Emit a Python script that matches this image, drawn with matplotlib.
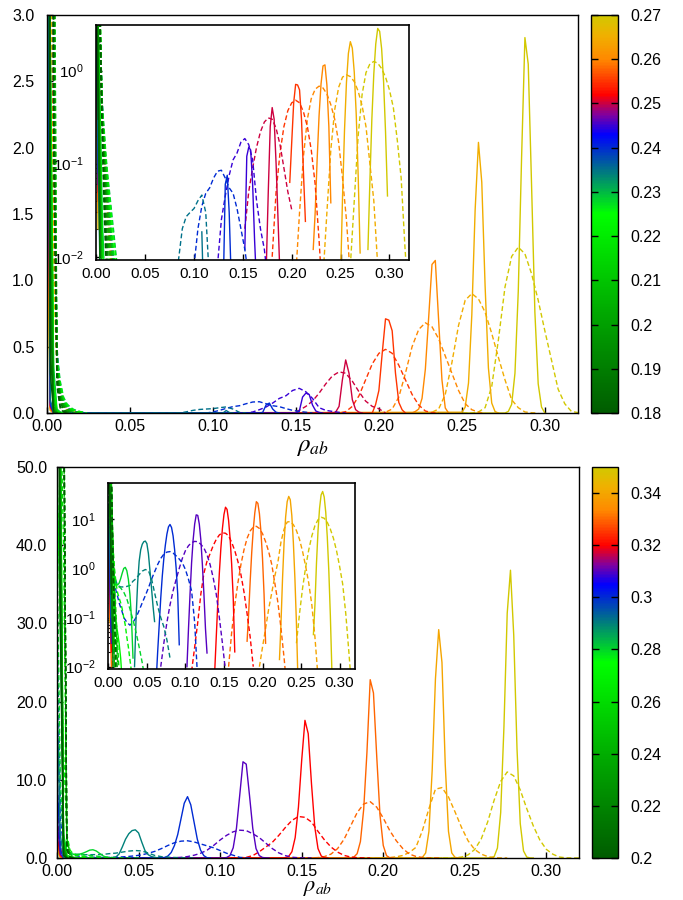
import numpy as np
import matplotlib
matplotlib.use("Agg")
import matplotlib.pyplot as plt
from matplotlib.colors import LinearSegmentedColormap, Normalize
from matplotlib.cm import ScalarMappable
from matplotlib.ticker import FixedLocator, FormatStrFormatter, LogLocator, NullFormatter

plt.rcParams["font.family"] = ["Liberation Sans", "DejaVu Sans"]
plt.rcParams["mathtext.fontset"] = "custom"
plt.rcParams["mathtext.rm"] = "Liberation Sans"
plt.rcParams["mathtext.it"] = "Liberation Sans:italic"

BIN = 0.002       # bin width of the histograms (near zero and solid curves)
BIN_WIDE = 0.004  # bin width used for the broad (dashed) curves

# palette, dark green -> green -> teal -> blue -> purple -> red -> orange -> yellow
pal_pos = [0.0, 0.25, 0.5, 0.6, 0.7, 0.75, 0.8, 0.89, 0.95, 1.0]
pal_col = ["#005c00", "#00a800", "#00ff00", "#00807a", "#0000ff",
           "#8000a0", "#ff0000", "#ff8800", "#f0b000", "#d2c800"]
cmap = LinearSegmentedColormap.from_list("pal", list(zip(pal_pos, pal_col)))

# ---------------- top panel ----------------
top_params = [0.18, 0.185, 0.19, 0.195, 0.20, 0.205, 0.21, 0.215, 0.22, 0.225,
              0.23, 0.235, 0.24, 0.245, 0.25, 0.255, 0.26, 0.265, 0.27]
top_cbar_ticks = [0.18, 0.19, 0.20, 0.21, 0.22, 0.23, 0.24, 0.25, 0.26, 0.27]

top_solid_zero = [
    [10, 0.3, 0], [12, 0.5, 0.005, 0], [15, 0.8, 0.01, 0], [18, 1.1, 0.02, 0],
    [22, 1.4, 0.03, 0], [26, 1.7, 0.05, 0.004, 0], [30, 2.0, 0.08, 0.006, 0],
    [34, 2.3, 0.12, 0.01, 0], [38, 2.5, 0.18, 0.015, 0], [40, 2.7, 0.25, 0.02, 0.005, 0],
    [40, 2.8, 0.35, 0.03, 0.008, 0], [6, 0.1, 0.005, 0], [5, 0.08, 0], [4.5, 0.06, 0],
    [4, 0.05, 0], [3.5, 0.04, 0], [2.5, 0.03, 0], [2, 0.02, 0], [1.5, 0.02, 0],
]
top_solid_start = [None, None, None, None, None, None, None, None, None, None,
                   None, 0.106, 0.128, 0.150, 0.172, 0.196, 0.220, 0.250, 0.276]
top_solid_peak = [
    [], [], [], [], [], [], [], [], [], [], [],
    [0, 0.0185, 0.003, 0],
    [0, 0.005, 0.06, 0.075, 0.03, 0.006, 0],
    [0, 0.012, 0.12, 0.15, 0.14, 0.06, 0.015, 0.005, 0],
    [0, 0.008, 0.05, 0.25, 0.40, 0.30, 0.10, 0.025, 0.006, 0],
    [0, 0.063, 0.17, 0.45, 0.71, 0.70, 0.62, 0.30, 0.08, 0.024, 0],
    [0, 0.012, 0.03, 0.11, 0.33, 0.72, 1.12, 1.15, 0.70, 0.25, 0.038, 0],
    [0.006, 0.044, 0.226, 0.74, 1.53, 2.04, 1.74, 0.96, 0.34, 0.075, 0.011, 0],
    [0, 0.012, 0.065, 0.30, 0.92, 1.93, 2.83, 2.63, 1.72, 0.76, 0.22, 0.045, 0],
]
top_dash_zero = [
    [60, 30, 2.0, 0.2, 0.03, 0.008, 0],
    [60, 35, 2.2, 0.25, 0.05, 0.012, 0.004, 0],
    [60, 40, 2.4, 0.3, 0.08, 0.02, 0.006, 0],
    [60, 40, 2.6, 0.32, 0.1, 0.03, 0.01, 0.004, 0],
    [60, 40, 2.8, 0.35, 0.12, 0.05, 0.018, 0.007, 0],
    [60, 40, 5.0, 0.3, 0.14, 0.06, 0.028, 0.012, 0.005, 0],
    [60, 40, 2.5, 0.38, 0.16, 0.08, 0.04, 0.018, 0.01, 0.006, 0],
    [60, 40, 2.7, 0.4, 0.18, 0.09, 0.05, 0.026, 0.014, 0.008, 0.005, 0],
    [60, 40, 4.5, 0.35, 0.2, 0.1, 0.06, 0.032, 0.018, 0.011, 0.007, 0],
    [60, 40, 2.9, 0.42, 0.22, 0.11, 0.065, 0.04, 0.024, 0.015, 0.01, 0.006, 0],
    [50, 30, 2.6, 0.45, 0.24, 0.12, 0.07, 0.045, 0.028, 0.018, 0.011, 0.007, 0],
    [30, 20, 2.5, 0.5, 0.18, 0.09, 0.05, 0.028, 0.016, 0.01, 0.006, 0],
    [25, 15, 2.4, 0.45, 0.16, 0.08, 0.045, 0.025, 0.014, 0.009, 0.005, 0],
    [20, 12, 2.3, 0.42, 0.15, 0.07, 0.04, 0.022, 0.012, 0.007, 0],
    [15, 10, 2.2, 0.4, 0.14, 0.065, 0.035, 0.019, 0.01, 0.006, 0],
    [12, 8, 2.0, 0.38, 0.13, 0.06, 0.03, 0.016, 0.009, 0],
    [10, 6, 1.6, 0.36, 0.12, 0.055, 0.026, 0.014, 0.008, 0],
    [8, 5, 1.3, 0.34, 0.11, 0.05, 0.024, 0.012, 0.007, 0],
    [6, 4, 1.0, 0.32, 0.1, 0.045, 0.022, 0.011, 0.006, 0],
]
top_dash_start = [None, None, None, None, None, None, None, None, None, None,
                  None, 0.080, 0.096, 0.120, 0.148, 0.176, 0.200, 0.228, 0.256]
top_dash_peak = [
    [], [], [], [], [], [], [], [], [], [], [],
    [0, 0.009, 0.02, 0.027, 0.03, 0.033, 0.04, 0.046, 0.03, 0.005, 0],
    [0, 0.008, 0.02, 0.035, 0.048, 0.055, 0.07, 0.083, 0.085, 0.07, 0.055, 0.048,
     0.033, 0.02, 0.012, 0.006, 0],
    [0, 0.008, 0.025, 0.045, 0.075, 0.11, 0.13, 0.17, 0.186, 0.16, 0.11, 0.04,
     0.02, 0.012, 0.005, 0],
    [0, 0.02, 0.05, 0.09, 0.15, 0.22, 0.28, 0.31, 0.30, 0.24, 0.16, 0.09, 0.05, 0.032, 0],
    [0, 0.01, 0.05, 0.13, 0.25, 0.37, 0.45, 0.48, 0.45, 0.36, 0.25, 0.14, 0.06,
     0.015, 0.003, 0],
    [0, 0.006, 0.03, 0.12, 0.30, 0.50, 0.63, 0.68, 0.65, 0.56, 0.43, 0.30, 0.17,
     0.07, 0.025, 0.006, 0],
    [0, 0.006, 0.03, 0.14, 0.38, 0.66, 0.85, 0.90, 0.86, 0.76, 0.60, 0.42, 0.25,
     0.10, 0.04, 0.008, 0.002, 0],
    [0, 0.008, 0.04, 0.20, 0.55, 0.95, 1.18, 1.25, 1.20, 1.05, 0.85, 0.62, 0.40,
     0.18, 0.07, 0.012, 0.003],
]

# ---------------- bottom panel ----------------
bot_params = [0.20, 0.21, 0.22, 0.23, 0.24, 0.25, 0.26, 0.27,
              0.28, 0.29, 0.30, 0.31, 0.32, 0.33, 0.34, 0.35]
bot_cbar_ticks = [0.20, 0.22, 0.24, 0.26, 0.28, 0.30, 0.32, 0.34]

bot_solid_zero = [
    [90, 30, 0.3, 0], [90, 35, 0.5, 0], [90, 40, 0.8, 0.01, 0], [90, 45, 1.2, 0.03, 0],
    [90, 50, 1.6, 0.06, 0], [90, 55, 2.0, 0.1, 0.01, 0], [80, 60, 2.2, 0.2, 0.02, 0],
    [70, 55, 2.0, 0.4, 0.15, 0.08, 0.05, 0.03, 0.015, 0.005, 0],
    [50, 30, 3.0, 1.0, 0.6, 0.48, 0.46, 0.5, 0.62, 0.8, 1.0, 1.05, 0.9, 0.6, 0.3,
     0.1, 0.015, 0],
    [20, 3, 0.1, 0], [10, 1, 0.05, 0], [5, 0.5, 0.03, 0], [3, 0.3, 0.02, 0],
    [2, 0.2, 0.01, 0], [1.5, 0.1, 0], [1, 0.08, 0],
]
bot_solid_start = [None, None, None, None, None, None, None, None,
                   None, 0.032, 0.060, 0.100, 0.136, 0.178, 0.220, 0.264]
bot_solid_peak = [
    [], [], [], [], [], [], [], [], [],
    [0, 0.01, 0.1, 0.5, 1.4, 2.4, 3.1, 3.5, 3.6, 3.2, 2.0, 0.9, 0.4, 0.17, 0.083, 0],
    [0, 0.005, 0.02, 0.07, 0.25, 0.7, 1.6, 3.0, 5.0, 7.0, 7.84, 6.8, 4.6, 2.4, 1.0,
     0.3, 0.028, 0],
    [0, 0.01, 0.06, 0.3, 1.3, 3.8, 8.0, 12.3, 12.0, 8.0, 3.8, 1.2, 0.3, 0.06, 0.019, 0],
    [0, 0.008, 0.04, 0.2, 0.8, 2.6, 6.5, 12.5, 17.6, 15.9, 9.5, 4.0, 1.2, 0.25, 0.02, 0],
    [0, 0.033, 0.12, 0.55, 2.1, 6.2, 13.5, 22.8, 21.1, 13.0, 5.5, 1.6, 0.3, 0.03, 0],
    [0, 0.014, 0.08, 0.64, 3.4, 11.2, 22.9, 29.2, 25.0, 12.0, 3.4, 0.64, 0.076, 0.005, 0],
    [0, 0.045, 0.18, 1.27, 5.8, 16.8, 31.3, 36.8, 28.5, 14.0, 4.4, 0.9, 0.11, 0.008, 0],
]
bot_dash_zero = [
    [90, 85, 60, 1.0, 0.05, 0],
    [90, 85, 62, 1.3, 0.08, 0.005, 0],
    [90, 85, 64, 1.6, 0.12, 0.01, 0],
    [90, 85, 66, 2.0, 0.18, 0.02, 0],
    [90, 85, 66, 2.3, 0.25, 0.04, 0.006, 0],
    [80, 75, 60, 2.5, 0.35, 0.07, 0.012, 0],
    [70, 60, 40, 2.6, 0.5, 0.12, 0.03, 0.008, 0],
    [50, 30, 14, 3.0, 1.0, 0.5, 0.32, 0.25, 0.2, 0.15, 0.1, 0.07, 0.04, 0.025, 0.014,
     0.008, 0],
    [40, 10, 2.5, 1.0, 0.6, 0.45, 0.42, 0.42],
    [30, 8, 2.0, 1.0, 0.7, 0.55],
    [20, 5, 1.5, 0.8, 0.5, 0.35, 0.27, 0.2, 0.16, 0.13, 0.1, 0.09, 0.08, 0.075],
    [10, 2, 0.3, 0.05, 0.01, 0],
    [6, 1.2, 0.2, 0.03, 0],
    [4, 0.8, 0.1, 0.01, 0],
    [3, 0.5, 0.06, 0],
    [2, 0.3, 0.03, 0],
]
bot_dash_start = [None, None, None, None, None, None, None, None,
                  0.016, 0.012, 0.028, 0.064, 0.104, 0.152, 0.192, 0.240]
bot_dash_peak = [
    [], [], [], [], [], [], [], [],
    [0.4, 0.33, 0.24, 0.15, 0.09, 0.05, 0.025, 0.012, 0.005, 0],
    [0.45, 0.42, 0.42, 0.43, 0.45, 0.55, 0.62, 0.75, 0.88, 0.95, 0.9, 0.62, 0.32,
     0.17, 0.1, 0.065, 0.035, 0.015, 0],
    [0.07, 0.08, 0.1, 0.14, 0.2, 0.28, 0.4, 0.6, 0.85, 1.2, 1.6, 1.95, 2.15, 2.2,
     2.05, 1.8, 1.55, 1.3, 0.95, 0.6, 0.35, 0.08, 0.005, 0],
    [0, 0.01, 0.03, 0.08, 0.18, 0.35, 0.6, 1.0, 1.6, 2.3, 2.9, 3.35, 3.55, 3.5, 3.1,
     2.6, 1.9, 1.2, 0.65, 0.3, 0.1, 0.03, 0.008, 0],
    [0, 0.008, 0.025, 0.08, 0.3, 0.8, 1.4, 2.0, 2.9, 3.9, 4.8, 5.3, 5.2, 4.6, 3.4,
     2.3, 1.4, 0.75, 0.33, 0.12, 0.04, 0.01, 0],
    [0, 0.01, 0.05, 0.18, 0.5, 1.2, 2.4, 4.1, 5.8, 6.9, 7.2, 6.5, 5.1, 3.5, 2.2,
     1.2, 0.5, 0.2, 0.06, 0.015, 0.003, 0],
    [0, 0.01, 0.025, 0.06, 0.15, 0.32, 0.7, 1.35, 3.5, 6.3, 8.8, 9.0, 7.8, 5.9, 3.9,
     2.2, 1.1, 0.5, 0.18, 0.04, 0.006, 0],
    [0, 0.03, 0.12, 0.4, 1.07, 2.4, 4.6, 7.4, 9.8, 11.0, 10.5, 8.7, 6.3, 4.1, 2.3,
     1.1, 0.48, 0.12, 0.02, 0.003, 0],
]


def build(zero, start, peak, step):
    xs = [i * BIN for i in range(len(zero))]
    ys = list(zero)
    if start is not None:
        xs += [start + i * step for i in range(len(peak))]
        ys += list(peak)
    return np.array(xs), np.array(ys, dtype=float)


def draw_curves(ax, params, norm, s_zero, s_start, s_peak, d_zero, d_start, d_peak):
    for k in reversed(range(len(params))):
        col = cmap(norm(params[k]))
        x, y = build(s_zero[k], s_start[k], s_peak[k], BIN)
        ax.plot(x, y, color=col, lw=1.0)
        x, y = build(d_zero[k], d_start[k], d_peak[k], BIN_WIDE)
        ax.plot(x, y, color=col, lw=1.0, ls=(0, (3.5, 2.0)))


fig = plt.figure(figsize=(6.83, 9.0), dpi=100)


def make_panel(rect, in_rect, cb_rect, ymax, ystep, ypad, xlab_size, xlab_pad, params,
               cb_ticks, in_ylim, in_major, data):
    norm = Normalize(params[0], params[-1])

    ax = fig.add_axes(rect)
    draw_curves(ax, params, norm, *data)
    ax.set_xlim(0, 0.32)
    ax.set_ylim(0, ymax)
    ax.xaxis.set_major_locator(FixedLocator([0.0, 0.05, 0.10, 0.15, 0.20, 0.25, 0.30]))
    ax.xaxis.set_major_formatter(FormatStrFormatter("%.2f"))
    ax.yaxis.set_major_locator(FixedLocator(np.arange(0, ymax + ystep / 2, ystep)))
    ax.yaxis.set_major_formatter(FormatStrFormatter("%.1f"))
    ax.tick_params(direction="in", length=4, width=1, labelsize=11.5)
    ax.tick_params(axis="x", pad=4)
    ax.tick_params(axis="y", pad=ypad)
    for s in ax.spines.values():
        s.set_linewidth(1.0)
    ax.set_xlabel(r"$\rho_{ab}$", fontsize=xlab_size, math_fontfamily="stix",
                  labelpad=xlab_pad)

    axi = fig.add_axes(in_rect)
    axi.set_facecolor("white")
    draw_curves(axi, params, norm, *data)
    axi.set_yscale("log", nonpositive="mask")
    axi.set_xlim(0, 0.32)
    axi.set_ylim(*in_ylim)
    axi.xaxis.set_major_locator(FixedLocator([0.0, 0.05, 0.10, 0.15, 0.20, 0.25, 0.30]))
    axi.xaxis.set_major_formatter(FormatStrFormatter("%.2f"))
    axi.yaxis.set_major_locator(FixedLocator(in_major))
    axi.yaxis.set_minor_locator(LogLocator(base=10, subs=np.arange(2, 10)))
    axi.yaxis.set_minor_formatter(NullFormatter())
    axi.tick_params(direction="in", length=4.5, width=1, labelsize=11)
    axi.tick_params(which="minor", direction="in", length=2.5, width=0.8)
    axi.tick_params(axis="x", pad=5)
    axi.tick_params(axis="y", pad=9)
    for s in axi.spines.values():
        s.set_linewidth(1.2)

    cax = fig.add_axes(cb_rect)
    cb = fig.colorbar(ScalarMappable(norm=norm, cmap=cmap), cax=cax, ticks=cb_ticks)
    cb.ax.set_yticklabels(["%g" % round(t, 2) for t in cb_ticks])
    cb.ax.tick_params(direction="in", length=5, width=1, left=True, right=True,
                      labelsize=11.5, pad=9, color="black")
    cb.ax.minorticks_off()
    cb.outline.set_linewidth(1.0)


make_panel([0.0688, 0.5411, 0.7775, 0.4422], [0.141, 0.7114, 0.4578, 0.2611],
           [0.8653, 0.5411, 0.0395, 0.4422], 3.0, 0.5, 9, 18, 0, top_params,
           top_cbar_ticks, (0.0093, 3.1), [0.01, 0.1, 1.0],
           (top_solid_zero, top_solid_start, top_solid_peak,
            top_dash_zero, top_dash_start, top_dash_peak))

make_panel([0.0835, 0.0467, 0.7642, 0.4344], [0.1586, 0.257, 0.3612, 0.206],
           [0.8668, 0.0467, 0.038, 0.4344], 50.0, 10.0, 7, 16, -1, bot_params,
           bot_cbar_ticks, (0.0091, 54), [0.01, 0.1, 1.0, 10.0],
           (bot_solid_zero, bot_solid_start, bot_solid_peak,
            bot_dash_zero, bot_dash_start, bot_dash_peak))

fig.savefig("out.png", dpi=100)
